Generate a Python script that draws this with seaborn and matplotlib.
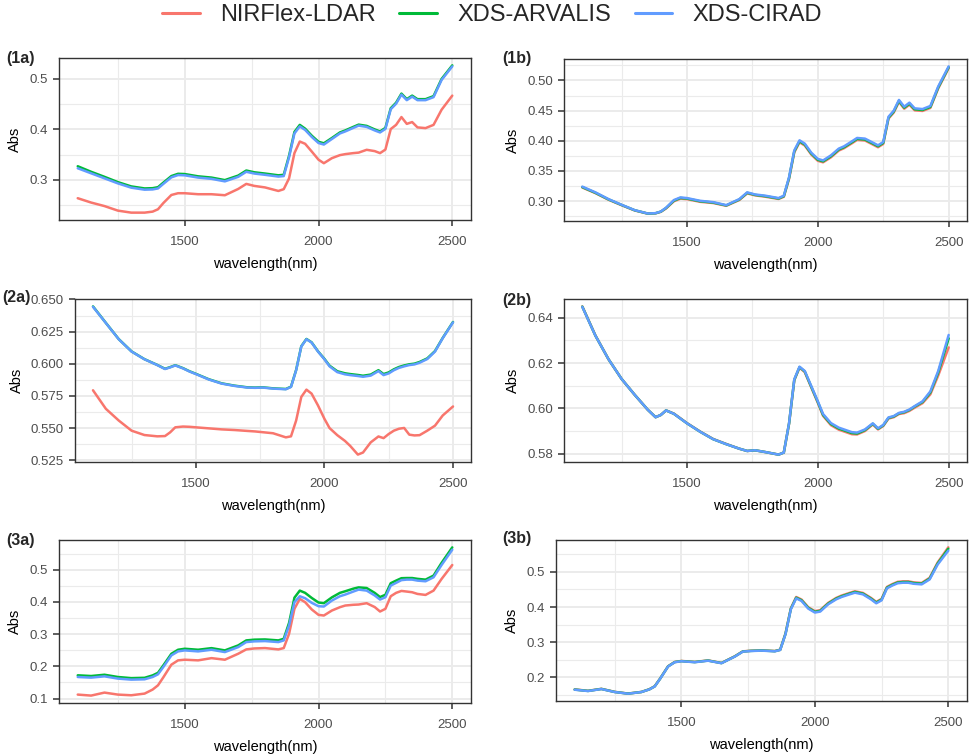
import numpy as np
import pandas as pd
import matplotlib
matplotlib.use("Agg")
import matplotlib.pyplot as plt
import seaborn as sns
from matplotlib.ticker import MultipleLocator, FormatStrFormatter
from matplotlib.lines import Line2D

# ---------------- data ----------------
WL = [1100, 1150, 1200, 1250, 1300, 1350, 1380, 1400, 1420, 1450, 1475, 1500,
      1550, 1600, 1650, 1700, 1730, 1760, 1800, 1850, 1870, 1890, 1910, 1930,
      1950, 1975, 2000, 2020, 2050, 2080, 2100, 2130, 2150, 2180, 2210, 2230,
      2250, 2270, 2290, 2310, 2330, 2350, 2370, 2400, 2430, 2460, 2500]

instruments = ["NIRFlex-LDAR", "XDS-ARVALIS", "XDS-CIRAD"]
colors = ["#F8766D", "#00BA38", "#619CFF"]
panel_tags = ["(1a)", "(1b)", "(2a)", "(2b)", "(3a)", "(3b)"]

p1a_ldar = [0.2636, 0.255, 0.248, 0.239, 0.235, 0.235, 0.237, 0.2417, 0.254, 0.270, 0.2735, 0.2735,
            0.2715, 0.2715, 0.2695, 0.282, 0.292, 0.288, 0.285, 0.278, 0.2815, 0.303, 0.353, 0.376,
            0.3715, 0.356, 0.340, 0.333, 0.343, 0.349, 0.351, 0.353, 0.354, 0.3596, 0.357, 0.353,
            0.360, 0.4007, 0.409, 0.4245, 0.411, 0.4146, 0.404, 0.4026, 0.409, 0.439, 0.467]
p1a_arv = [0.327, 0.316, 0.306, 0.2955, 0.287, 0.283, 0.2835, 0.2855, 0.2945, 0.3075, 0.312, 0.3115,
           0.307, 0.3045, 0.2995, 0.3085, 0.3185, 0.315, 0.3125, 0.309, 0.310, 0.348, 0.395, 0.409,
           0.4015, 0.3875, 0.3755, 0.3725, 0.383, 0.394, 0.398, 0.405, 0.4095, 0.407, 0.400, 0.396,
           0.403, 0.442, 0.453, 0.471, 0.460, 0.467, 0.460, 0.460, 0.466, 0.500, 0.527]
p1a_cir = [0.323, 0.313, 0.303, 0.293, 0.2845, 0.2805, 0.281, 0.283, 0.292, 0.305, 0.3095, 0.309,
           0.3045, 0.302, 0.297, 0.306, 0.316, 0.3125, 0.310, 0.3065, 0.3075, 0.345, 0.392, 0.406,
           0.399, 0.385, 0.373, 0.370, 0.381, 0.392, 0.396, 0.403, 0.4075, 0.405, 0.398, 0.394,
           0.401, 0.440, 0.451, 0.469, 0.458, 0.465, 0.458, 0.458, 0.464, 0.498, 0.525]

p1b_ldar = [0.3225, 0.3132, 0.3023, 0.2932, 0.2845, 0.2792, 0.2797, 0.2822, 0.2878, 0.2997, 0.3041, 0.3032,
            0.2988, 0.2968, 0.2922, 0.3018, 0.3128, 0.3095, 0.3072, 0.3035, 0.3072, 0.3368, 0.3808, 0.3975,
            0.3922, 0.3772, 0.3668, 0.3643, 0.3726, 0.3838, 0.3877, 0.3958, 0.4015, 0.4005, 0.3938, 0.3893,
            0.3948, 0.4368, 0.4468, 0.4645, 0.4532, 0.4598, 0.4505, 0.4495, 0.4545, 0.4868, 0.5205]
p1b_arv = [0.3232, 0.3138, 0.3028, 0.2936, 0.2848, 0.2793, 0.2799, 0.2825, 0.2885, 0.3008, 0.3052, 0.3042,
           0.2997, 0.2976, 0.2928, 0.3026, 0.3137, 0.3103, 0.3081, 0.3043, 0.3081, 0.3383, 0.3825, 0.3992,
           0.3938, 0.3788, 0.3685, 0.3659, 0.3743, 0.3855, 0.3893, 0.3975, 0.4032, 0.4021, 0.3955, 0.3910,
           0.3965, 0.4383, 0.4484, 0.4662, 0.4549, 0.4616, 0.4522, 0.4511, 0.4561, 0.4884, 0.5220]
p1b_cir = [0.324, 0.3145, 0.3033, 0.2939, 0.285, 0.2794, 0.280, 0.2827, 0.289, 0.3017, 0.3061, 0.305,
           0.3005, 0.2983, 0.2933, 0.3033, 0.3145, 0.311, 0.3089, 0.305, 0.309, 0.3396, 0.384, 0.4008,
           0.3953, 0.3802, 0.370, 0.3674, 0.3758, 0.387, 0.3908, 0.399, 0.4047, 0.4036, 0.397, 0.3925,
           0.398, 0.4398, 0.4499, 0.4677, 0.4565, 0.4632, 0.4538, 0.4526, 0.4577, 0.490, 0.5234]

p2a_ldar = [0.5794, 0.565, 0.5559, 0.548, 0.5446, 0.5436, 0.5438, 0.5467, 0.5506, 0.5512, 0.551, 0.5506,
            0.5498, 0.549, 0.5485, 0.5478, 0.5474, 0.5468, 0.546, 0.5428, 0.5436, 0.5559, 0.5742, 0.5799,
            0.5768, 0.5676, 0.5572, 0.550, 0.5445, 0.540, 0.5362, 0.5294, 0.531, 0.5389, 0.5435, 0.5422,
            0.5454, 0.548, 0.5495, 0.5501, 0.5449, 0.5443, 0.5445, 0.548, 0.5519, 0.5598, 0.5668]
p2a_arv = [0.6446, 0.6318, 0.6192, 0.6096, 0.6036, 0.5991, 0.5961, 0.5974, 0.5989, 0.5966, 0.5942, 0.5922,
           0.5880, 0.5848, 0.5830, 0.5817, 0.5815, 0.5817, 0.5809, 0.5804, 0.5822, 0.5952, 0.6136, 0.6193,
           0.6167, 0.6097, 0.6038, 0.5985, 0.5942, 0.5926, 0.5920, 0.5913, 0.5907, 0.5916, 0.5950, 0.5920,
           0.5933, 0.5957, 0.5975, 0.5987, 0.5996, 0.6001, 0.6014, 0.6042, 0.6099, 0.6201, 0.6325]
p2a_cir = [0.6443, 0.6317, 0.6191, 0.6095, 0.6035, 0.599, 0.5959, 0.5972, 0.5987, 0.5964, 0.594, 0.592,
           0.5878, 0.5846, 0.5828, 0.5815, 0.5813, 0.5815, 0.5807, 0.5802, 0.582, 0.595, 0.6134, 0.6191,
           0.6165, 0.6095, 0.6035, 0.598, 0.5935, 0.5918, 0.5912, 0.5905, 0.5899, 0.5908, 0.5943, 0.5912,
           0.5925, 0.595, 0.5968, 0.598, 0.599, 0.5995, 0.6008, 0.6037, 0.6095, 0.6199, 0.6322]

p2b_ldar = [0.6450, 0.6322, 0.6217, 0.6130, 0.6060, 0.5994, 0.5961, 0.5971, 0.5991, 0.5977, 0.5956, 0.5935,
            0.5898, 0.5865, 0.5843, 0.5822, 0.5812, 0.5815, 0.5807, 0.5796, 0.5805, 0.5932, 0.6124, 0.6180,
            0.6160, 0.6092, 0.6024, 0.5967, 0.5926, 0.5906, 0.5898, 0.5886, 0.5885, 0.5900, 0.5929, 0.5907,
            0.5922, 0.5955, 0.5961, 0.5975, 0.5979, 0.5989, 0.6003, 0.6023, 0.6062, 0.6145, 0.6269]
p2b_arv = [0.6449, 0.6321, 0.6217, 0.6130, 0.6060, 0.5994, 0.5961, 0.5971, 0.5991, 0.5976, 0.5955, 0.5934,
           0.5897, 0.5864, 0.5842, 0.5822, 0.5812, 0.5815, 0.5807, 0.5796, 0.5805, 0.5933, 0.6126, 0.6182,
           0.6163, 0.6095, 0.6028, 0.5971, 0.5931, 0.5911, 0.5903, 0.5891, 0.5889, 0.5904, 0.5932, 0.5910,
           0.5925, 0.5958, 0.5964, 0.5978, 0.5983, 0.5993, 0.6008, 0.6028, 0.6070, 0.6158, 0.6309]
p2b_cir = [0.6448, 0.6321, 0.6217, 0.613, 0.606, 0.5994, 0.5961, 0.5971, 0.5991, 0.5976, 0.5955, 0.5934,
           0.5897, 0.5864, 0.5842, 0.5822, 0.5812, 0.5815, 0.5807, 0.5796, 0.5805, 0.5934, 0.6128, 0.6184,
           0.6165, 0.6098, 0.6031, 0.5975, 0.5935, 0.5915, 0.5907, 0.5895, 0.5893, 0.5907, 0.5934, 0.5912,
           0.5927, 0.596, 0.5966, 0.598, 0.5985, 0.5995, 0.601, 0.6031, 0.6075, 0.6165, 0.6324]

p3a_ldar = [0.1124, 0.1093, 0.1186, 0.1124, 0.1103, 0.1155, 0.128, 0.1412, 0.166, 0.2052, 0.2186, 0.2206,
            0.2186, 0.2255, 0.2206, 0.2392, 0.2526, 0.2555, 0.2567, 0.2526, 0.2567, 0.301, 0.3784, 0.4093,
            0.399, 0.3763, 0.3598, 0.3577, 0.3732, 0.3835, 0.3887, 0.391, 0.3918, 0.3959, 0.384, 0.3701,
            0.3784, 0.4175, 0.428, 0.434, 0.432, 0.4299, 0.4247, 0.4216, 0.435, 0.4711, 0.5144]
p3a_arv = [0.1722, 0.170, 0.174, 0.167, 0.1635, 0.1645, 0.172, 0.180, 0.203, 0.239, 0.2515, 0.2546,
           0.2515, 0.2565, 0.2495, 0.265, 0.2805, 0.2828, 0.2835, 0.2805, 0.2855, 0.335, 0.413, 0.435,
           0.428, 0.412, 0.398, 0.396, 0.414, 0.428, 0.433, 0.441, 0.445, 0.443, 0.428, 0.415,
           0.422, 0.458, 0.466, 0.4735, 0.474, 0.474, 0.4715, 0.469, 0.4815, 0.521, 0.569]
p3a_cir = [0.167, 0.165, 0.169, 0.162, 0.1588, 0.1598, 0.167, 0.1753, 0.198, 0.234, 0.2464, 0.2495,
           0.2464, 0.2515, 0.2443, 0.2598, 0.2753, 0.2775, 0.2784, 0.2753, 0.2804, 0.3268, 0.399, 0.4175,
           0.4113, 0.3969, 0.3866, 0.3856, 0.4041, 0.4175, 0.4227, 0.432, 0.4381, 0.435, 0.420, 0.4072,
           0.4144, 0.4505, 0.459, 0.4675, 0.4691, 0.4691, 0.466, 0.4639, 0.4763, 0.5144, 0.5619]

p3b_ldar = [0.1660, 0.1620, 0.1676, 0.1590, 0.1542, 0.1588, 0.1664, 0.1750, 0.1966, 0.2318, 0.2440, 0.2468,
            0.2440, 0.2483, 0.2411, 0.2600, 0.2741, 0.2758, 0.2769, 0.2750, 0.2788, 0.3250, 0.3965, 0.4285,
            0.4212, 0.3996, 0.3883, 0.3911, 0.4118, 0.4259, 0.4325, 0.4400, 0.4447, 0.4400, 0.4260, 0.4146,
            0.4231, 0.4570, 0.4650, 0.4715, 0.4730, 0.4730, 0.4701, 0.4683, 0.4830, 0.5265, 0.5696]
p3b_arv = [0.1655, 0.1616, 0.1673, 0.1587, 0.1540, 0.1586, 0.1662, 0.1747, 0.1963, 0.2314, 0.2436, 0.2464,
           0.2436, 0.2479, 0.2407, 0.2596, 0.2737, 0.2754, 0.2765, 0.2746, 0.2784, 0.3240, 0.3950, 0.4265,
           0.4192, 0.3976, 0.3863, 0.3891, 0.4098, 0.4239, 0.4305, 0.4380, 0.4427, 0.4380, 0.4240, 0.4126,
           0.4211, 0.4550, 0.4630, 0.4695, 0.4710, 0.4710, 0.4681, 0.4663, 0.4806, 0.5235, 0.5655]
p3b_cir = [0.1651, 0.1613, 0.167, 0.1585, 0.1538, 0.1585, 0.166, 0.1745, 0.196, 0.231, 0.2432, 0.246,
           0.2432, 0.2475, 0.2404, 0.2592, 0.2733, 0.275, 0.2761, 0.2742, 0.278, 0.3231, 0.3937, 0.4247,
           0.4172, 0.3956, 0.3843, 0.3871, 0.4078, 0.4219, 0.4285, 0.436, 0.4407, 0.436, 0.422, 0.4106,
           0.4191, 0.453, 0.461, 0.4675, 0.469, 0.469, 0.4661, 0.4643, 0.4784, 0.5207, 0.5602]

panel_series = [
    (p1a_ldar, p1a_arv, p1a_cir),
    (p1b_ldar, p1b_arv, p1b_cir),
    (p2a_ldar, p2a_arv, p2a_cir),
    (p2b_ldar, p2b_arv, p2b_cir),
    (p3a_ldar, p3a_arv, p3a_cir),
    (p3b_ldar, p3b_arv, p3b_cir),
]

# y-axis tick steps and formats per panel
y_steps = [0.1, 0.05, 0.025, 0.02, 0.1, 0.1]
y_fmts = ["%.1f", "%.2f", "%.3f", "%.2f", "%.1f", "%.1f"]

# ---------------- style ----------------
sns.set_style("white")
plt.rcParams['font.family'] = ['Liberation Sans', 'DejaVu Sans']

W, H = 974, 754
fig = plt.figure(figsize=(W / 100, H / 100), dpi=100)

# panel boxes in pixels: left, right, top, bottom
boxes = [
    (59, 471, 58, 220),
    (564, 967, 59, 221),
    (75, 471, 299, 462),
    (564, 967, 299, 462),
    (59, 471, 540, 703),
    (556, 967, 540, 701),
]
tag_pos = [(6, 58), (502, 58), (2, 297), (502, 300), (6, 540), (502, 539)]

grid_col = "#EBEBEB"
dark = "#333333"

for i, (ser, box) in enumerate(zip(panel_series, boxes)):
    l, r, t, b = box
    ax = fig.add_axes([l / W, 1 - b / H, (r - l) / W, (b - t) / H])
    frames = []
    for name, vals in zip(instruments, ser):
        frames.append(pd.DataFrame({"wavelength": WL, "Abs": vals, "instrument": name}))
    df = pd.concat(frames, ignore_index=True)
    sns.lineplot(data=df, x="wavelength", y="Abs", hue="instrument",
                 hue_order=instruments, palette=colors, ax=ax, legend=False,
                 estimator=None, sort=False, linewidth=1.8)
    ax.margins(x=0.05, y=0.05)
    ax.xaxis.set_major_locator(MultipleLocator(500))
    ax.xaxis.set_minor_locator(MultipleLocator(250))
    ax.yaxis.set_major_locator(MultipleLocator(y_steps[i]))
    ax.yaxis.set_minor_locator(MultipleLocator(y_steps[i] / 2))
    ax.yaxis.set_major_formatter(FormatStrFormatter(y_fmts[i]))
    ax.grid(which="major", color=grid_col, linewidth=1.4)
    ax.grid(which="minor", color=grid_col, linewidth=0.8)
    ax.set_axisbelow(True)
    for sp in ax.spines.values():
        sp.set_color(dark)
        sp.set_linewidth(1.0)
        sp.set_visible(True)
    ax.tick_params(which="major", length=4.5, width=1.1, color=dark,
                   labelsize=9.5, labelcolor="#4D4D4D", pad=3.6,
                   bottom=True, left=True)
    ax.tick_params(axis="x", which="major", pad=7)
    ax.tick_params(which="minor", length=0)
    ax.set_xlabel("wavelength(nm)", fontsize=10.5, labelpad=6.5, color="black")
    ax.set_ylabel("Abs", fontsize=10.5, labelpad=5, color="black")
    tx, ty = tag_pos[i]
    fig.text(tx / W, 1 - ty / H, panel_tags[i], fontsize=11.5, fontweight="bold",
             ha="left", va="center")

handles = [Line2D([0], [0], color=c, linewidth=2.2) for c in colors]
fig.legend(handles, instruments, loc="center", bbox_to_anchor=(492 / W, 1 - 15 / H),
           ncol=3, frameon=False, fontsize=17, handlelength=1.6,
           handletextpad=0.86, columnspacing=1.0)

fig.savefig("out.png", dpi=100)
